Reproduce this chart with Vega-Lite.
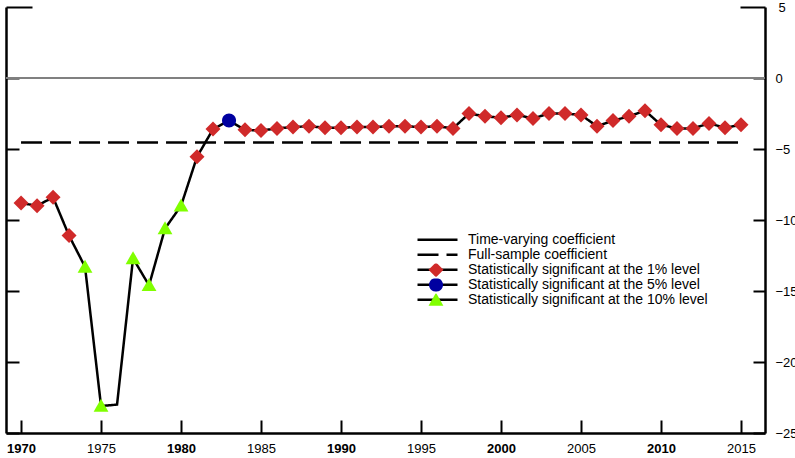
{
  "$schema": "https://vega.github.io/schema/vega-lite/v6.json",
  "width": 759,
  "height": 426,
  "autosize": {"type": "none"},
  "padding": {"left": 6, "top": 7, "right": 30, "bottom": 25},
  "background": "white",
  "config": {
    "view": {"stroke": null},
    "font": "Liberation Sans",
    "axis": {"grid": false, "domainColor": "black", "domainWidth": 2.5, "tickColor": "black", "tickWidth": 2, "labelColor": "black", "labelFont": "Liberation Sans", "labelFontSize": 13, "title": null}
  },
  "data": {
    "values": [
      {"year": 1970, "value": -8.8, "series": "Time-varying coefficient", "sig": "1%"},
      {"year": 1971, "value": -9.0, "series": "Time-varying coefficient", "sig": "1%"},
      {"year": 1972, "value": -8.4, "series": "Time-varying coefficient", "sig": "1%"},
      {"year": 1973, "value": -11.1, "series": "Time-varying coefficient", "sig": "1%"},
      {"year": 1974, "value": -13.3, "series": "Time-varying coefficient", "sig": "10%"},
      {"year": 1975, "value": -23.1, "series": "Time-varying coefficient", "sig": "10%"},
      {"year": 1976, "value": -23.0, "series": "Time-varying coefficient", "sig": null},
      {"year": 1977, "value": -12.7, "series": "Time-varying coefficient", "sig": "10%"},
      {"year": 1978, "value": -14.6, "series": "Time-varying coefficient", "sig": "10%"},
      {"year": 1979, "value": -10.6, "series": "Time-varying coefficient", "sig": "10%"},
      {"year": 1980, "value": -9.0, "series": "Time-varying coefficient", "sig": "10%"},
      {"year": 1981, "value": -5.55, "series": "Time-varying coefficient", "sig": "1%"},
      {"year": 1982, "value": -3.6, "series": "Time-varying coefficient", "sig": "1%"},
      {"year": 1983, "value": -3.0, "series": "Time-varying coefficient", "sig": "5%"},
      {"year": 1984, "value": -3.65, "series": "Time-varying coefficient", "sig": "1%"},
      {"year": 1985, "value": -3.7, "series": "Time-varying coefficient", "sig": "1%"},
      {"year": 1986, "value": -3.55, "series": "Time-varying coefficient", "sig": "1%"},
      {"year": 1987, "value": -3.45, "series": "Time-varying coefficient", "sig": "1%"},
      {"year": 1988, "value": -3.4, "series": "Time-varying coefficient", "sig": "1%"},
      {"year": 1989, "value": -3.5, "series": "Time-varying coefficient", "sig": "1%"},
      {"year": 1990, "value": -3.5, "series": "Time-varying coefficient", "sig": "1%"},
      {"year": 1991, "value": -3.45, "series": "Time-varying coefficient", "sig": "1%"},
      {"year": 1992, "value": -3.45, "series": "Time-varying coefficient", "sig": "1%"},
      {"year": 1993, "value": -3.4, "series": "Time-varying coefficient", "sig": "1%"},
      {"year": 1994, "value": -3.4, "series": "Time-varying coefficient", "sig": "1%"},
      {"year": 1995, "value": -3.45, "series": "Time-varying coefficient", "sig": "1%"},
      {"year": 1996, "value": -3.4, "series": "Time-varying coefficient", "sig": "1%"},
      {"year": 1997, "value": -3.55, "series": "Time-varying coefficient", "sig": "1%"},
      {"year": 1998, "value": -2.5, "series": "Time-varying coefficient", "sig": "1%"},
      {"year": 1999, "value": -2.7, "series": "Time-varying coefficient", "sig": "1%"},
      {"year": 2000, "value": -2.8, "series": "Time-varying coefficient", "sig": "1%"},
      {"year": 2001, "value": -2.6, "series": "Time-varying coefficient", "sig": "1%"},
      {"year": 2002, "value": -2.85, "series": "Time-varying coefficient", "sig": "1%"},
      {"year": 2003, "value": -2.5, "series": "Time-varying coefficient", "sig": "1%"},
      {"year": 2004, "value": -2.5, "series": "Time-varying coefficient", "sig": "1%"},
      {"year": 2005, "value": -2.6, "series": "Time-varying coefficient", "sig": "1%"},
      {"year": 2006, "value": -3.4, "series": "Time-varying coefficient", "sig": "1%"},
      {"year": 2007, "value": -3.0, "series": "Time-varying coefficient", "sig": "1%"},
      {"year": 2008, "value": -2.7, "series": "Time-varying coefficient", "sig": "1%"},
      {"year": 2009, "value": -2.3, "series": "Time-varying coefficient", "sig": "1%"},
      {"year": 2010, "value": -3.3, "series": "Time-varying coefficient", "sig": "1%"},
      {"year": 2011, "value": -3.55, "series": "Time-varying coefficient", "sig": "1%"},
      {"year": 2012, "value": -3.55, "series": "Time-varying coefficient", "sig": "1%"},
      {"year": 2013, "value": -3.2, "series": "Time-varying coefficient", "sig": "1%"},
      {"year": 2014, "value": -3.5, "series": "Time-varying coefficient", "sig": "1%"},
      {"year": 2015, "value": -3.3, "series": "Time-varying coefficient", "sig": "1%"},
      {"year": 1970, "value": -4.55, "series": "Full-sample coefficient", "sig": null},
      {"year": 2015, "value": -4.55, "series": "Full-sample coefficient", "sig": null}
    ]
  },
  "resolve": {"axis": {"y": "independent"}},
  "layer": [
    {
      "mark": {"type": "rule", "color": "#808080", "strokeWidth": 1.2},
      "encoding": {
        "y": {"datum": 0, "type": "quantitative", "scale": {"domain": [-25, 5], "nice": false, "zero": false}, "axis": null}
      }
    },
    {
      "mark": {"type": "line", "color": "black", "strokeWidth": 2.5},
      "encoding": {
        "x": {"field": "year", "type": "quantitative", "scale": {"domain": [1969.06, 2016.5], "nice": false, "zero": false},
          "axis": {"orient": "bottom", "values": [1970, 1975, 1980, 1985, 1990, 1995, 2000, 2005, 2010, 2015], "format": "d", "tickSize": -13, "labelPadding": 22, "labelFlush": false, "labelOverlap": false,
            "labelFontWeight": {"condition": {"test": "datum.value % 10 === 0", "value": "bold"}, "value": "normal"}}},
        "y": {"field": "value", "type": "quantitative", "scale": {"domain": [-25, 5], "nice": false, "zero": false},
          "axis": {"orient": "left", "values": [-25, -20, -15, -10, -5, 0, 5], "labels": false, "tickSize": {"condition": {"test": "datum.value === 5", "value": -26}, "value": -13}}},
        "strokeDash": {"field": "series", "type": "nominal",
          "scale": {"domain": ["Time-varying coefficient", "Full-sample coefficient", "Statistically significant at the 1% level", "Statistically significant at the 5% level", "Statistically significant at the 10% level"],
            "range": [[1, 0], [21, 8], [1, 0], [1, 0], [1, 0]]},
          "legend": {"orient": "none", "legendX": 410, "legendY": 226.5, "title": null, "symbolType": "stroke", "symbolSize": 1600, "symbolStrokeColor": "black", "symbolStrokeWidth": 2.5, "labelFont": "Liberation Sans", "labelFontSize": 14, "labelColor": "black", "labelOffset": 9, "clipHeight": 12.7, "rowPadding": 0, "padding": 0, "labelLimit": 500, "zindex": 1}}
      }
    },
    {
      "transform": [{"filter": "datum.sig != null"}],
      "mark": {"type": "point", "filled": true, "opacity": 1, "size": 1600, "strokeWidth": 0},
      "encoding": {
        "x": {"field": "year", "type": "quantitative",
          "axis": {"orient": "bottom", "values": [1970, 1975, 1980, 1985, 1990, 1995, 2000, 2005, 2010, 2015], "format": "d", "tickSize": -13, "labelPadding": 22, "labelFlush": false, "labelOverlap": false,
            "labelFontWeight": {"condition": {"test": "datum.value % 10 === 0", "value": "bold"}, "value": "normal"}}},
        "y": {"field": "value", "type": "quantitative",
          "axis": {"orient": "right", "values": [-25, -20, -15, -10, -5, 0, 5], "tickSize": {"condition": {"test": "datum.value === 5", "value": -25}, "value": -12},
            "labelPadding": {"condition": {"test": "datum.value === 5", "value": 38}, "value": 22}, "labelAlign": "left"}},
        "shape": {"field": "sig", "type": "nominal",
          "scale": {"domain": ["tv", "fs", "1%", "5%", "10%"],
            "range": ["M0,0Z", "M0,0Z", "M0,-0.375L0.375,0L0,0.375L-0.375,0Z", "M0.35,0A0.35,0.35 0 1,1 -0.35,0A0.35,0.35 0 1,1 0.35,0Z", "M0,-0.36L0.37,0.29L-0.37,0.29Z"]},
          "legend": {"orient": "none", "legendX": 410, "legendY": 226.5, "title": null, "symbolSize": 1600, "symbolStrokeWidth": 0, "symbolOpacity": 1, "labelExpr": "''", "labelFontSize": 14, "labelOffset": 9, "clipHeight": 12.7, "rowPadding": 0, "padding": 0, "zindex": 2}},
        "color": {"field": "sig", "type": "nominal",
          "scale": {"domain": ["tv", "fs", "1%", "5%", "10%"], "range": ["transparent", "transparent", "#d02a2a", "#0000a0", "#80ff00"]},
          "legend": {"orient": "none", "legendX": 410, "legendY": 226.5, "title": null, "symbolSize": 1600, "symbolStrokeWidth": 0, "symbolOpacity": 1, "labelExpr": "''", "labelFontSize": 14, "labelOffset": 9, "clipHeight": 12.7, "rowPadding": 0, "padding": 0, "zindex": 2}}
      }
    }
  ]
}
